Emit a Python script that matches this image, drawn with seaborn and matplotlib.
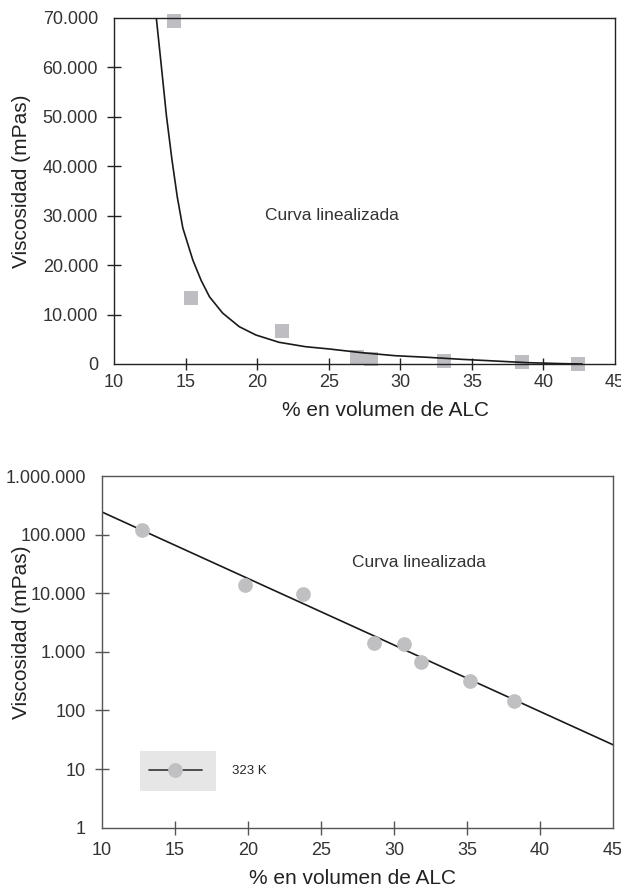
import matplotlib
matplotlib.use("Agg")
import matplotlib.pyplot as plt
from matplotlib.patches import Rectangle
from matplotlib.lines import Line2D
import seaborn as sns

# --- datos: gráfico lineal (arriba) ---
top_x = [14.17, 15.4, 21.76, 26.98, 27.93, 33.02, 38.5, 42.4]
top_y = [69400, 13400, 6740, 1360, 1010, 670, 340, 0]
curve_x = [12.96, 13.31, 13.66, 14.05, 14.42, 14.81, 15.51, 16.09, 16.67, 17.59,
           18.75, 19.91, 21.53, 23.38, 25.0, 27.31, 29.63, 31.94, 34.26, 36.58,
           38.89, 41.2, 42.7]
curve_y = [69900, 60200, 50300, 41300, 33800, 27500, 21000, 16900, 13600, 10300,
           7550, 5870, 4390, 3500, 3050, 2290, 1680, 1350, 950, 610,
           270, 80, 0]

# --- datos: gráfico logarítmico (abajo) ---
bottom_x = [12.77, 19.79, 23.76, 28.63, 30.69, 31.88, 35.19, 38.2]
bottom_y = [122000, 13700, 9600, 1440, 1340, 670, 320, 147]
fit_x = [10, 45]
fit_y = [243000, 26]

x_ticks = [10, 15, 20, 25, 30, 35, 40, 45]
top_yticks = [0, 10000, 20000, 30000, 40000, 50000, 60000, 70000]
top_ylabels = ["0", "10.000", "20.000", "30.000", "40.000", "50.000", "60.000", "70.000"]
log_yticks = [1, 10, 100, 1000, 10000, 100000, 1000000]
log_ylabels = ["1", "10", "100", "1.000", "10.000", "100.000", "1.000.000"]

xlabel = "% en volumen de ALC"
ylabel = "Viscosidad (mPas)"
note = "Curva linealizada"
legend_label = "323 K"

sns.set_style("ticks")
plt.rcParams["font.family"] = ["Liberation Sans", "DejaVu Sans"]

TXT = "#333333"
SQ = "#bdbdc2"
CIR = "#c0c0c3"

fig = plt.figure(figsize=(6.21, 8.89), dpi=100)

# ---------- arriba ----------
ax1 = fig.add_axes([114 / 621, 1 - 364 / 889, 501 / 621, 346 / 889])
sns.scatterplot(x=top_x, y=top_y, ax=ax1, marker="s", s=9.4 ** 2, color=SQ,
                linewidth=0, clip_on=False, zorder=1)
sns.lineplot(x=curve_x, y=curve_y, ax=ax1, color="#1a1a1a", linewidth=1.2,
             sort=False, estimator=None, zorder=3)
ax1.set_xlim(10, 45)
ax1.set_ylim(0, 70000)
ax1.set_xticks(x_ticks)
ax1.set_xticklabels([str(t) for t in x_ticks])
ax1.set_yticks(top_yticks)
ax1.set_yticklabels(top_ylabels)
ax1.tick_params(axis="y", direction="inout", length=10, width=1, color="#222222",
                labelsize=13, labelcolor=TXT, pad=6.5)
ax1.tick_params(axis="x", direction="inout", length=8, width=1, color="#222222",
                labelsize=13, labelcolor=TXT, pad=3.5)
for sp in ax1.spines.values():
    sp.set_color("#222222")
    sp.set_linewidth(1.0)
ax1.text(25.2, 30000, note, fontsize=12.5, color=TXT, ha="center", va="center")
ax1.set_xlabel(xlabel, fontsize=15, color="#222222")
ax1.set_ylabel(ylabel, fontsize=15, color="#222222")
ax1.xaxis.set_label_coords(0.541, -0.108)
ax1.yaxis.set_label_coords(-0.166, 0.527)

# ---------- abajo ----------
ax2 = fig.add_axes([102 / 621, 1 - 827.7 / 889, 511 / 621, 351.7 / 889])
sns.lineplot(x=fit_x, y=fit_y, ax=ax2, color="#1a1a1a", linewidth=1.2,
             sort=False, estimator=None, zorder=2)
sns.scatterplot(x=bottom_x, y=bottom_y, ax=ax2, marker="o", s=10.6 ** 2, color=CIR,
                linewidth=0, zorder=3)
ax2.set_yscale("log")
ax2.set_xlim(10, 45)
ax2.set_ylim(1, 1000000)
ax2.set_xticks(x_ticks)
ax2.set_xticklabels([str(t) for t in x_ticks])
ax2.set_yticks(log_yticks)
ax2.set_yticklabels(log_ylabels)
ax2.minorticks_off()
ax2.tick_params(axis="both", direction="inout", length=10, width=1, color="#555555",
                labelsize=13, labelcolor=TXT)
ax2.tick_params(axis="y", pad=6.5)
ax2.tick_params(axis="x", pad=5)
for sp in ax2.spines.values():
    sp.set_color("#555555")
    sp.set_linewidth(1.0)
ax2.text(31.7, 33900, note, fontsize=12.5, color=TXT, ha="center", va="center")
ax2.set_xlabel(xlabel, fontsize=15, color="#222222")
ax2.set_ylabel(ylabel, fontsize=15, color="#222222")
ax2.xaxis.set_label_coords(0.491, -0.118)
ax2.yaxis.set_label_coords(-0.139, 0.556)

# leyenda con recuadro gris solo detrás del símbolo
ax2.add_patch(Rectangle((0.0744, 0.1044), 0.1487, 0.1137, transform=ax2.transAxes,
                        facecolor="#e6e6e6", edgecolor="none", zorder=0))
handle = Line2D([], [], color="#333333", linewidth=1.2, marker="o",
                markersize=10.6, markerfacecolor=CIR, markeredgewidth=0)
ax2.legend([handle], [legend_label], loc="center left", bbox_to_anchor=(0.092, 0.161),
           frameon=False, fontsize=9.5, handlelength=4.0, handletextpad=2.3,
           borderpad=0, borderaxespad=0)

# ocultar las marcas que coinciden con las esquinas
for ax in (ax1, ax2):
    for ticks in (ax.xaxis.get_major_ticks(), ax.yaxis.get_major_ticks()):
        for t in (ticks[0], ticks[-1]):
            t.tick1line.set_visible(False)
            t.tick2line.set_visible(False)

fig.savefig("out.png", dpi=100)
